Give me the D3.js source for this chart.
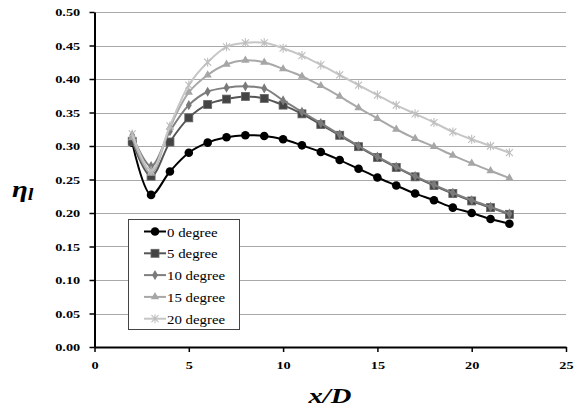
<!DOCTYPE html>
<html>
<head>
<meta charset="utf-8">
<script src="https://cdn.jsdelivr.net/npm/d3@7"></script>
<style>
  body { margin: 0; background: #fff; }
  svg { display: block; }
  text { font-family: "Liberation Serif", "Times New Roman", serif; }
</style>
</head>
<body>
<svg id="chart" width="574" height="410"></svg>
<script>
// x/D stations
var xD = [2, 3, 4, 5, 6, 7, 8, 9, 10, 11, 12, 13, 14, 15, 16, 17, 18, 19, 20, 21, 22];

// eta_l for each angle
var deg0  = [0.305, 0.227, 0.262, 0.290, 0.305, 0.313, 0.316, 0.315, 0.310, 0.301, 0.291,
             0.279, 0.266, 0.253, 0.241, 0.229, 0.219, 0.208, 0.200, 0.191, 0.184];
var deg5  = [0.307, 0.255, 0.306, 0.342, 0.362, 0.370, 0.374, 0.371, 0.361, 0.348, 0.332,
             0.316, 0.299, 0.283, 0.268, 0.254, 0.241, 0.229, 0.218, 0.208, 0.198];
var deg10 = [0.316, 0.270, 0.322, 0.361, 0.381, 0.387, 0.389, 0.386, 0.368, 0.351, 0.334,
             0.317, 0.300, 0.284, 0.269, 0.255, 0.242, 0.230, 0.219, 0.209, 0.199];
var deg15 = [0.312, 0.259, 0.328, 0.380, 0.406, 0.422, 0.428, 0.425, 0.415, 0.404, 0.390,
             0.374, 0.357, 0.341, 0.325, 0.311, 0.299, 0.286, 0.274, 0.263, 0.252];
var deg20 = [0.318, 0.263, 0.330, 0.391, 0.425, 0.448, 0.454, 0.454, 0.446, 0.435, 0.421,
             0.406, 0.391, 0.376, 0.361, 0.348, 0.335, 0.321, 0.310, 0.300, 0.290];

var seriesNames = ["0 degree", "5 degree", "10 degree", "15 degree", "20 degree"];
var xTicks = [0, 5, 10, 15, 20, 25];
var yTicks = [0, 0.05, 0.10, 0.15, 0.20, 0.25, 0.30, 0.35, 0.40, 0.45, 0.50];

var styles = [
	{ line: "#000000", fill: "#000000", shape: "circle" },
	{ line: "#555555", fill: "#444444", shape: "square" },
	{ line: "#7f7f7f", fill: "#7a7a7a", shape: "diamond" },
	{ line: "#a8a8a8", fill: "#a6a6a6", shape: "triangle" },
	{ line: "#c6c6c6", fill: "#bdbdbd", shape: "star" }
];
var allValues = [deg0, deg5, deg10, deg15, deg20];

var svg = d3.select("#chart");
var stretch = 1.3; // the text in the picture is drawn wide

var x = d3.scaleLinear().domain([0, 25]).range([94.5, 566]);
var y = d3.scaleLinear().domain([0, 0.5]).range([347, 12]);

// grid
svg.append("g").selectAll("line")
	.data(yTicks.filter(d => d > 0))
	.join("line")
	.attr("x1", x(0)).attr("x2", x(25))
	.attr("y1", d => Math.round(y(d)) + 0.5).attr("y2", d => Math.round(y(d)) + 0.5)
	.attr("stroke", "#a9a9a9").attr("stroke-width", 1.2);

// axes
var yAxis = svg.append("g")
	.attr("transform", "translate(" + x(0) + ",0)")
	.call(d3.axisLeft(y).tickValues(yTicks).tickSize(5).tickSizeOuter(0)
		.tickPadding(6).tickFormat(d3.format(".2f")));
yAxis.select(".domain").attr("stroke-width", 2);
yAxis.selectAll(".tick line").attr("stroke-width", 1.5);
yAxis.selectAll("text")
	.attr("font-size", 11).attr("font-weight", "bold")
	.attr("font-family", "Liberation Serif, serif")
	.attr("transform", "scale(" + stretch + ",1)");

var xAxis = svg.append("g")
	.attr("transform", "translate(0," + y(0) + ")")
	.call(d3.axisBottom(x).tickValues(xTicks).tickSize(5).tickSizeOuter(0).tickPadding(9));
xAxis.select(".domain").attr("stroke-width", 2);
xAxis.selectAll(".tick line").attr("stroke-width", 1.5);
xAxis.selectAll("text")
	.attr("font-size", 11).attr("font-weight", "bold")
	.attr("font-family", "Liberation Serif, serif")
	.attr("transform", "scale(" + stretch + ",1)")
	.attr("x", function (d) { return 0; });

// axis titles
svg.append("text")
	.attr("transform", "translate(330,403) scale(" + stretch + ",1)")
	.attr("text-anchor", "middle")
	.attr("font-size", 22).attr("font-weight", "bold").attr("font-style", "italic")
	.text("x/D");

var yt = svg.append("text")
	.attr("transform", "translate(12,197) scale(1.2,1)")
	.attr("font-size", 24).attr("font-style", "italic").attr("font-weight", "bold");
yt.append("tspan").text("η");
yt.append("tspan").attr("font-size", 17).attr("dy", 3).text("l");

// markers
function drawMarker(g, shape, st) {
	if (shape === "circle") {
		g.append("circle").attr("r", 4.3).attr("fill", st.fill);
	} else if (shape === "square") {
		g.append("rect").attr("x", -4).attr("y", -4).attr("width", 8).attr("height", 8)
			.attr("fill", st.fill).attr("stroke", "#666").attr("stroke-width", 0.8);
	} else if (shape === "diamond") {
		g.append("path").attr("d", d3.symbol(d3.symbolDiamond, 30)()).attr("fill", st.fill);
	} else if (shape === "triangle") {
		g.append("path").attr("d", d3.symbol(d3.symbolTriangle, 30)()).attr("fill", st.fill);
	} else if (shape === "star") {
		g.append("path").attr("d", "M-3.5,-3.5L3.5,3.5M-3.5,3.5L3.5,-3.5M0,-4.5L0,4.5")
			.attr("stroke", st.fill).attr("stroke-width", 1.1).attr("fill", "none");
	}
}

var line = d3.line()
	.x(d => x(d[0])).y(d => y(d[1]))
	.curve(d3.curveCatmullRom.alpha(0.5));

allValues.forEach(function (vals, i) {
	var st = styles[i];
	var pts = xD.map((xv, j) => [xv, vals[j]]);
	var g = svg.append("g");
	g.append("path").datum(pts).attr("d", line)
		.attr("fill", "none").attr("stroke", st.line).attr("stroke-width", 2);
	pts.forEach(function (p) {
		var m = g.append("g").attr("transform", "translate(" + x(p[0]) + "," + y(p[1]) + ")");
		drawMarker(m, st.shape, st);
	});
});

// legend
var legend = svg.append("g");
legend.append("rect")
	.attr("x", 128.5).attr("y", 219.5).attr("width", 111).attr("height", 110)
	.attr("fill", "#fff").attr("stroke", "#444").attr("stroke-width", 1);
seriesNames.forEach(function (name, i) {
	var st = styles[i];
	var ly = 231.5 + i * 21.8;
	legend.append("line").attr("x1", 144).attr("x2", 166).attr("y1", ly).attr("y2", ly)
		.attr("stroke", st.line).attr("stroke-width", 2);
	var m = legend.append("g").attr("transform", "translate(155," + ly + ")");
	drawMarker(m, st.shape, st);
	legend.append("text")
		.attr("transform", "translate(167," + (ly + 5) + ") scale(1.1,1)")
		.attr("font-size", 13.5).attr("fill", "#000").text(name);
});
</script>
</body>
</html>
